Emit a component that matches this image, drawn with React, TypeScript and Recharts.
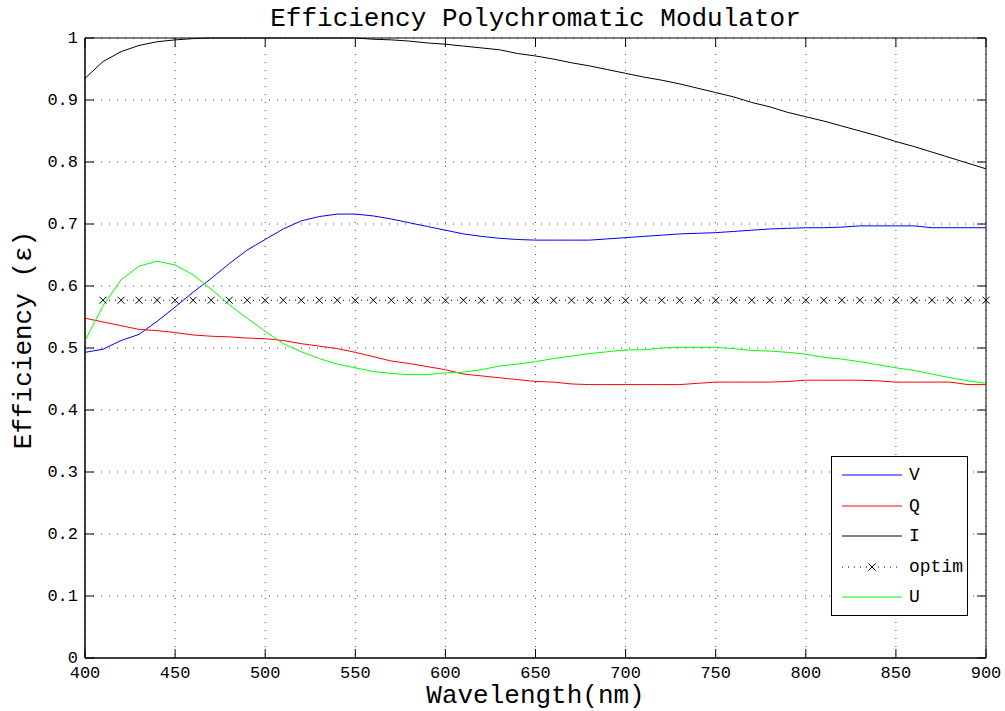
import React from 'react';
import {
  LineChart,
  Line,
  XAxis,
  YAxis,
  CartesianGrid,
  ReferenceArea,
  Legend,
} from 'recharts';

// wavelength samples (nm)
const WAVELENGTHS = [
  400, 410, 420, 430, 440, 450, 460, 470, 480, 490,
  500, 510, 520, 530, 540, 550, 560, 570, 580, 590,
  600, 610, 620, 630, 640, 650, 660, 670, 680, 690,
  700, 710, 720, 730, 740, 750, 760, 770, 780, 790,
  800, 810, 820, 830, 840, 850, 860, 870, 880, 890,
  900,
];

const V_VALUES = [
  0.493, 0.498, 0.512, 0.522, 0.543, 0.566, 0.590, 0.612, 0.636, 0.658,
  0.675, 0.692, 0.705, 0.712, 0.716, 0.716, 0.713, 0.708, 0.702, 0.696,
  0.690, 0.684, 0.680, 0.677, 0.675, 0.674, 0.674, 0.674, 0.674, 0.676,
  0.678, 0.680, 0.682, 0.684, 0.685, 0.686, 0.688, 0.690, 0.692, 0.693,
  0.694, 0.694, 0.695, 0.697, 0.697, 0.697, 0.697, 0.694, 0.694, 0.694,
  0.694,
];

const Q_VALUES = [
  0.548, 0.542, 0.536, 0.530, 0.528, 0.525, 0.521, 0.519, 0.518, 0.516,
  0.515, 0.512, 0.507, 0.503, 0.499, 0.493, 0.486, 0.479, 0.475, 0.470,
  0.465, 0.458, 0.455, 0.452, 0.449, 0.446, 0.445, 0.442, 0.441, 0.441,
  0.441, 0.441, 0.441, 0.441, 0.443, 0.445, 0.445, 0.445, 0.445, 0.446,
  0.448, 0.448, 0.448, 0.448, 0.447, 0.445, 0.445, 0.445, 0.445, 0.441,
  0.441,
];

const I_VALUES = [
  0.935, 0.962, 0.978, 0.988, 0.994, 0.997, 0.999, 1.0, 1.0, 1.0,
  1.0, 1.0, 1.0, 1.0, 1.0, 1.0, 0.998, 0.997, 0.995, 0.992,
  0.990, 0.987, 0.984, 0.981, 0.975, 0.971, 0.966, 0.960, 0.955, 0.949,
  0.943, 0.937, 0.932, 0.926, 0.919, 0.912, 0.905, 0.896, 0.889, 0.880,
  0.873, 0.866, 0.858, 0.850, 0.842, 0.833, 0.825, 0.816, 0.807, 0.798,
  0.789,
];

const U_VALUES = [
  0.512, 0.568, 0.610, 0.632, 0.640, 0.634, 0.618, 0.595, 0.570, 0.548,
  0.527, 0.507, 0.494, 0.483, 0.474, 0.468, 0.462, 0.459, 0.457, 0.457,
  0.460, 0.461, 0.465, 0.471, 0.474, 0.478, 0.483, 0.487, 0.491, 0.494,
  0.497, 0.497, 0.500, 0.501, 0.501, 0.501, 0.499, 0.496, 0.495, 0.493,
  0.490, 0.485, 0.482, 0.478, 0.473, 0.468, 0.464, 0.458, 0.452, 0.447,
  0.443,
];

// optimal efficiency 1/sqrt(3), marked from 410 nm on
const OPTIM_VALUE = 0.577;
const OPTIM_START = 410;

const X_TICKS = [400, 450, 500, 550, 600, 650, 700, 750, 800, 850, 900];
const Y_TICKS = [0, 0.1, 0.2, 0.3, 0.4, 0.5, 0.6, 0.7, 0.8, 0.9, 1];

const LEGEND_ITEMS = [
  { key: 'V', color: '#0000ff' },
  { key: 'Q', color: '#ff0000' },
  { key: 'I', color: '#000000' },
  { key: 'optim', color: '#000000' },
  { key: 'U', color: '#00ff00' },
];

const data = WAVELENGTHS.map((wl, i) => ({
  wl,
  V: V_VALUES[i],
  Q: Q_VALUES[i],
  I: I_VALUES[i],
  optim: wl >= OPTIM_START ? OPTIM_VALUE : null,
  U: U_VALUES[i],
}));

const FONT = '"Liberation Mono", "DejaVu Sans Mono", monospace';
const PLOT_TOP = 38;
const PLOT_RIGHT = 986;
const TICK_LEN = 9;

const XTick = ({ x, y, payload }: any) => (
  <g>
    <line x1={x} y1={y} x2={x} y2={y - TICK_LEN} stroke="#000" />
    <line x1={x} y1={PLOT_TOP} x2={x} y2={PLOT_TOP + TICK_LEN} stroke="#000" />
    <text x={x} y={y} dy={20} textAnchor="middle" fontFamily={FONT} fontSize={17} fill="#000">
      {payload.value}
    </text>
  </g>
);

const YTick = ({ x, y, payload }: any) => (
  <g>
    <line x1={x} y1={y} x2={x + TICK_LEN} y2={y} stroke="#000" />
    <line x1={PLOT_RIGHT} y1={y} x2={PLOT_RIGHT - TICK_LEN} y2={y} stroke="#000" />
    <text x={x - 7} y={y} dy={5} textAnchor="end" fontFamily={FONT} fontSize={17} fill="#000">
      {String(Number(payload.value.toFixed(1)))}
    </text>
  </g>
);

// 'x' marker for the optim series
const CrossDot = (props: any) => {
  const { cx, cy, value, index } = props;
  if (value == null || cx == null) return <g key={`x-${index}`} />;
  const s = 3.5;
  return (
    <g key={`x-${index}`} stroke="#000" strokeWidth={1}>
      <line x1={cx - s} y1={cy - s} x2={cx + s} y2={cy + s} />
      <line x1={cx - s} y1={cy + s} x2={cx + s} y2={cy - s} />
    </g>
  );
};

const renderLegend = () => (
  <div
    style={{
      width: 137,
      height: 160,
      boxSizing: 'border-box',
      border: '1px solid #000',
      background: '#fff',
      position: 'relative',
    }}
  >
    {LEGEND_ITEMS.map((item, i) => (
      <div
        key={item.key}
        style={{ position: 'absolute', left: 10, top: 8 + i * 30.5, height: 20, display: 'flex', alignItems: 'center' }}
      >
        <svg width={60} height={20}>
          {item.key === 'optim' ? (
            <g stroke="#000">
              <line x1={0} y1={10} x2={60} y2={10} strokeDasharray="1 5" />
              <line x1={26.5} y1={6.5} x2={33.5} y2={13.5} />
              <line x1={26.5} y1={13.5} x2={33.5} y2={6.5} />
            </g>
          ) : (
            <line x1={0} y1={10} x2={60} y2={10} stroke={item.color} strokeWidth={1} />
          )}
        </svg>
        <span style={{ fontFamily: FONT, fontSize: 18, marginLeft: 7, color: '#000' }}>{item.key}</span>
      </div>
    ))}
  </div>
);

export default function App() {
  return (
    <div style={{ position: 'absolute', left: 0, top: 0, width: 1005, height: 711, background: '#fff' }}>
      <div
        style={{
          position: 'absolute',
          left: 85,
          top: 5,
          width: 901,
          textAlign: 'center',
          fontFamily: FONT,
          fontSize: 26,
          lineHeight: '28px',
          color: '#000',
        }}
      >
        Efficiency Polychromatic Modulator
      </div>
      <LineChart width={1005} height={711} data={data} margin={{ top: 38, right: 19, bottom: 0, left: 25 }}>
        <CartesianGrid stroke="#444" strokeDasharray="1 7" />
        <XAxis
          type="number"
          dataKey="wl"
          domain={[400, 900]}
          ticks={X_TICKS}
          tickSize={0}
          tickMargin={0}
          height={53}
          stroke="#000"
          tick={<XTick />}
          label={{
            value: 'Wavelength(nm)',
            position: 'insideBottom',
            offset: 8,
            fontFamily: FONT,
            fontSize: 26,
            fill: '#000',
          }}
        />
        <YAxis
          type="number"
          domain={[0, 1]}
          ticks={Y_TICKS}
          tickSize={0}
          tickMargin={0}
          width={60}
          stroke="#000"
          tick={<YTick />}
          label={{
            value: 'Efficiency (\u03b5)',
            angle: -90,
            position: 'insideLeft',
            offset: -3,
            dy: -8,
            fontFamily: FONT,
            fontSize: 26,
            fill: '#000',
            style: { textAnchor: 'middle' },
          }}
        />
        <Line type="linear" dataKey="V" stroke="#0000ff" strokeWidth={1} dot={false} isAnimationActive={false} />
        <Line type="linear" dataKey="Q" stroke="#ff0000" strokeWidth={1} dot={false} isAnimationActive={false} />
        <Line type="linear" dataKey="I" stroke="#000000" strokeWidth={1} dot={false} isAnimationActive={false} />
        <Line
          type="linear"
          dataKey="optim"
          stroke="#000000"
          strokeWidth={1}
          strokeDasharray="1 5"
          dot={CrossDot}
          isAnimationActive={false}
        />
        <Line type="linear" dataKey="U" stroke="#00ff00" strokeWidth={1} dot={false} isAnimationActive={false} />
        <ReferenceArea x1={400} x2={900} y1={0} y2={1} fill="none" stroke="#000" strokeWidth={1} />
        <Legend
          layout="vertical"
          align="center"
          verticalAlign="middle"
          content={renderLegend}
          wrapperStyle={{ left: 831, top: 456, width: 137, height: 160 }}
        />
      </LineChart>
    </div>
  );
}
